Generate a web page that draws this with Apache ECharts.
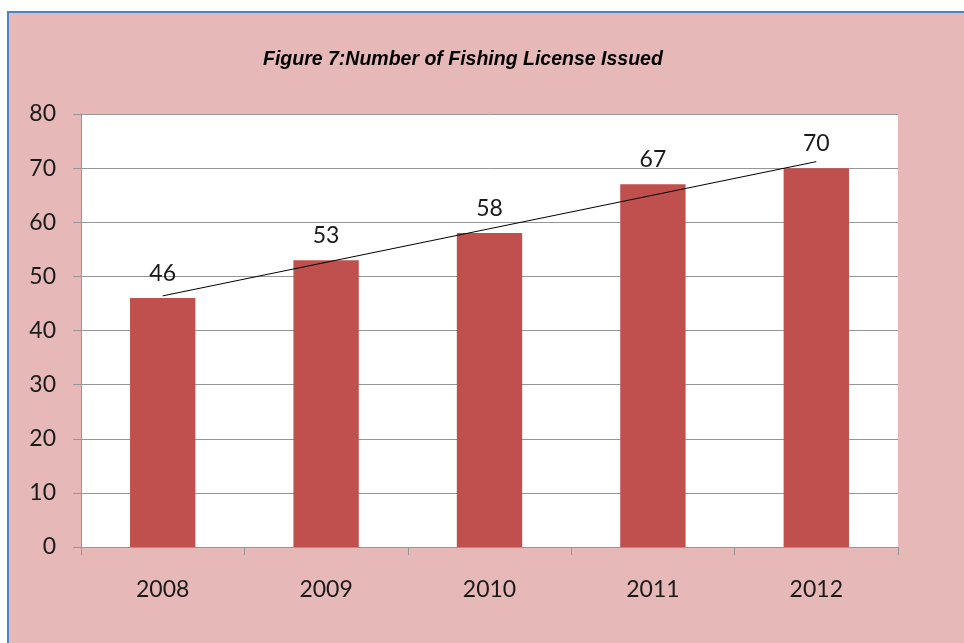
<!DOCTYPE html>
<html>
<head>
<meta charset="utf-8">
<script src="https://cdn.jsdelivr.net/npm/echarts@6/dist/echarts.min.js"></script>
<style>
  html, body { margin: 0; padding: 0; background: #ffffff; }
  #chart { width: 964px; height: 643px; }
</style>
</head>
<body>
<div id="chart"></div>
<script>
// Fishing licences issued per year
const years = ['2008', '2009', '2010', '2011', '2012'];
const licences = [46, 53, 58, 67, 70];
// Linear trend line end points (first and last year)
const trendLine = [46.4, null, null, null, 71.2];
const yTicks = { min: 0, max: 80, interval: 10 };

const chart = echarts.init(document.getElementById('chart'), null, { renderer: 'canvas' });

const labelFont = 'Lato, "Open Sans", sans-serif';

chart.setOption({
  backgroundColor: '#ffffff',
  animation: false,
  graphic: [{
    type: 'rect',
    z: -10,
    shape: { x: 8, y: 12, width: 970, height: 650 },
    style: { fill: '#e6b8b7', stroke: '#4f81bd', lineWidth: 2 }
  }],
  title: {
    text: 'Figure 7:Number of Fishing License Issued',
    left: 258,
    top: 45,
    textStyle: {
      fontFamily: '"Liberation Sans Narrow", "Arial Narrow", "Liberation Sans", sans-serif',
      fontStyle: 'italic',
      fontWeight: 'bold',
      fontSize: 19.5,
      color: '#000000'
    }
  },
  grid: {
    left: 81, right: 66, top: 114, bottom: 96,
    show: true, backgroundColor: '#ffffff', borderWidth: 0
  },
  xAxis: {
    type: 'category',
    data: years,
    axisLine: { show: true, lineStyle: { color: '#969696', width: 1 } },
    axisTick: { show: true, length: 8, alignWithLabel: false, lineStyle: { color: '#969696' } },
    axisLabel: { margin: 31, fontSize: 23, fontFamily: labelFont, color: '#1a1a1a' }
  },
  yAxis: {
    type: 'value',
    min: yTicks.min, max: yTicks.max, interval: yTicks.interval,
    axisLine: { show: true, lineStyle: { color: '#969696', width: 1 } },
    axisTick: { show: true, length: 8, lineStyle: { color: '#969696' } },
    splitLine: { show: true, lineStyle: { color: '#969696', width: 1 } },
    axisLabel: { margin: 25, fontSize: 23, fontFamily: labelFont, color: '#1a1a1a' }
  },
  series: [{
    type: 'bar',
    data: licences,
    barWidth: '40%',
    itemStyle: { color: '#c0504d' },
    label: {
      show: true, position: 'top', distance: 13,
      fontSize: 23, fontFamily: labelFont, color: '#1a1a1a'
    },
    z: 2
  }, {
    type: 'line',
    data: trendLine,
    connectNulls: true,
    symbol: 'none',
    lineStyle: { color: '#000000', width: 1 },
    z: 3
  }]
});
</script>
</body>
</html>
